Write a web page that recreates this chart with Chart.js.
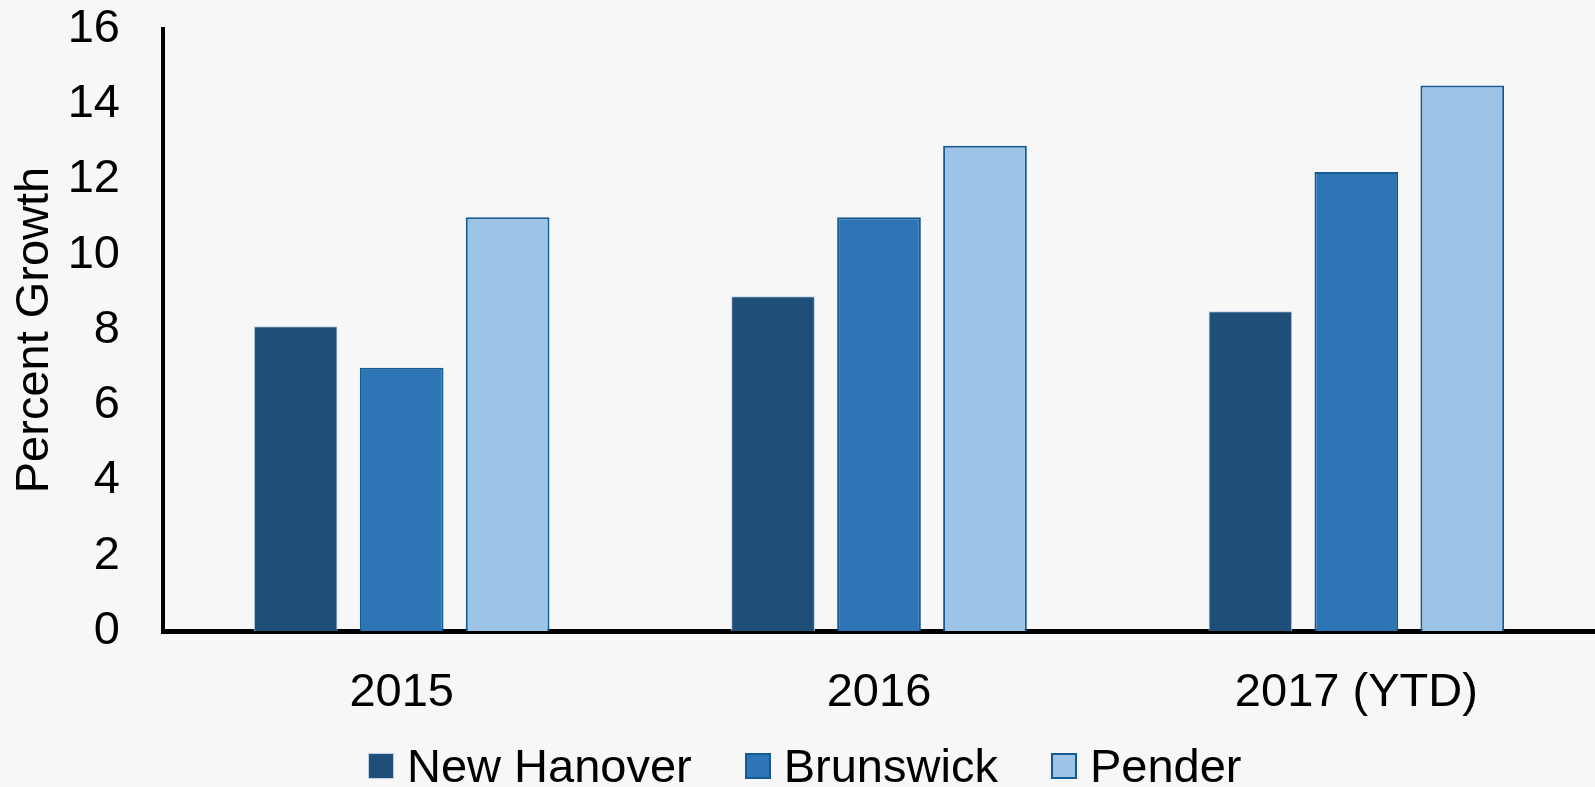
<!DOCTYPE html>
<html>
<head>
<meta charset="utf-8">
<script src="https://cdn.jsdelivr.net/npm/chart.js@4/dist/chart.umd.min.js"></script>
<style>
  html, body { margin: 0; padding: 0; background: #f7f7f7; }
  #wrap { position: relative; width: 1595px; height: 787px; overflow: hidden; }
  #legend { position: absolute; left: 368px; top: 742px; height: 47px; display: flex; align-items: center;
            font-family: "Liberation Sans", Arial, sans-serif; font-size: 47px; line-height: 47px; color: #000; white-space: nowrap; }
  .item { display: flex; align-items: center; margin-right: 53px; }
  .item:last-child { margin-right: 0; }
  .box { width: 26px; height: 26px; box-sizing: border-box; margin-right: 13px; }
</style>
</head>
<body>
<div id="wrap">
  <canvas id="c" width="1595" height="787"></canvas>
  <div id="legend"></div>
</div>
<script>
const categories = ["2015", "2016", "2017 (YTD)"];
const seriesNames = ["New Hanover", "Brunswick", "Pender"];
const newHanover = [8.1, 8.9, 8.5];
const brunswick = [7.0, 11.0, 12.2];
const pender = [11.0, 12.9, 14.5];
const yTicks = [0, 2, 4, 6, 8, 10, 12, 14, 16];

const fills = ["#1f4e79", "#2e75b6", "#9dc3e6"];
const borders = ["#bcd0e4", "#155a92", "#155a92"];
const borderWidths = [1, 2, 2];
const values = [newHanover, brunswick, pender];

const FONT = { family: "'Liberation Sans', Arial, sans-serif", size: 47 };

const chart = new Chart(document.getElementById('c'), {
  type: 'bar',
  data: {
    labels: categories,
    datasets: seriesNames.map((n, i) => ({
      label: n,
      data: values[i],
      backgroundColor: fills[i],
      borderColor: borders[i],
      borderWidth: borderWidths[i],
      categoryPercentage: 0.666,
      barPercentage: 0.79
    }))
  },
  options: {
    responsive: false,
    animation: false,
    devicePixelRatio: 1,
    layout: { padding: { top: 29, left: 0, right: 0, bottom: 0 } },
    plugins: { legend: { display: false }, tooltip: { enabled: false } },
    scales: {
      x: {
        z: 1,
        grid: { display: false, drawTicks: true, tickLength: 34 },
        border: { display: true, color: '#000', width: 5 },
        ticks: { color: '#000', font: FONT, padding: 0, maxRotation: 0 },
        afterFit: s => { s.height = 156; }
      },
      y: {
        z: 1,
        min: 0, max: 16,
        afterBuildTicks: s => { s.ticks = yTicks.map(v => ({ value: v })); },
        grid: { display: false, drawTicks: true, tickLength: 43 },
        border: { display: true, color: '#000', width: 4 },
        ticks: { color: '#000', font: FONT, padding: 0 },
        title: { display: true, text: 'Percent Growth', color: '#000', font: FONT, padding: { top: 7, bottom: 0 } },
        afterFit: s => { s.width = 163; }
      }
    }
  }
});

const leg = document.getElementById('legend');
chart.data.datasets.forEach(ds => {
  const item = document.createElement('div');
  item.className = 'item';
  const box = document.createElement('div');
  box.className = 'box';
  box.style.background = ds.backgroundColor;
  box.style.border = ds.borderWidth + 'px solid ' + ds.borderColor;
  const t = document.createElement('span');
  t.textContent = ds.label;
  item.appendChild(box);
  item.appendChild(t);
  leg.appendChild(item);
});
</script>
</body>
</html>
